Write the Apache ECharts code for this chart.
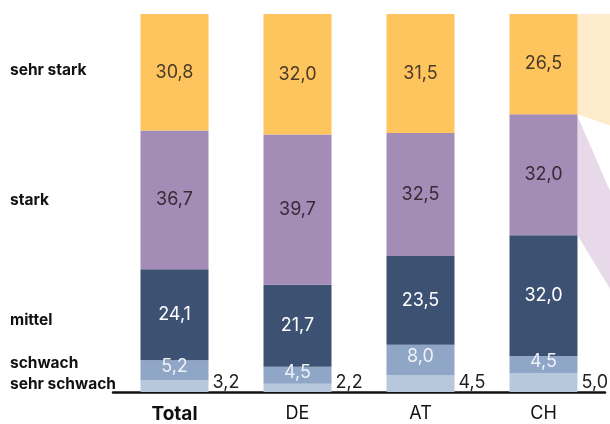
<!DOCTYPE html>
<html>
<head>
<meta charset="utf-8">
<script src="https://cdn.jsdelivr.net/npm/echarts@6/dist/echarts.min.js"></script>
<style>
  html, body { margin: 0; padding: 0; background: #fff; }
  #chart { width: 610px; height: 424px; }
</style>
</head>
<body>
<div id="chart"></div>
<script>
const categories = ['Total', 'DE', 'AT', 'CH']
const levels = ['sehr schwach', 'schwach', 'mittel', 'stark', 'sehr stark']
const sehrSchwach = [3.2, 2.2, 4.5, 5.0]
const schwach = [5.2, 4.5, 8.0, 4.5]
const mittel = [24.1, 21.7, 23.5, 32.0]
const stark = [36.7, 39.7, 32.5, 32.0]
const sehrStark = [30.8, 32.0, 31.5, 26.5]

const values = [sehrSchwach, schwach, mittel, stark, sehrStark]
const colors = ['#b8c8dc', '#8fa6c6', '#3d5273', '#a38cb6', '#fec55e']
const labelColors = ['#222', '#eef2f8', '#ffffff', '#3a2a36', '#4a3a2a']
const font = 'Inter, "Noto Sans", sans-serif'

function fmt (v) {
  return v.toFixed(1).replace('.', ',')
}

const series = values.map((arr, i) => {
  let label = {
    show: true,
    color: labelColors[i],
    fontFamily: font,
    fontSize: 18,
    formatter: p => fmt(p.value)
  }
  if (i === 0) {
    label.position = ['100%', '100%']
    label.align = 'left'
    label.verticalAlign = 'bottom'
    label.offset = [4, 0]
  } else if (i === 1) {
    label.position = 'inside'
    label.offset = [0, -3]
  } else {
    label.position = 'inside'
  }
  return {
    name: levels[i],
    type: 'bar',
    stack: 'all',
    barWidth: 68,
    itemStyle: { color: colors[i] },
    label: label,
    data: arr
  }
})

let chart = echarts.init(document.getElementById('chart'))
chart.setOption({
  animation: false,
  grid: { left: 113, right: 5, top: 14, bottom: 32 },
  xAxis: {
    type: 'category',
    data: categories,
    axisLine: { lineStyle: { color: '#111', width: 2.5 } },
    axisTick: { show: false },
    axisLabel: {
      margin: 13,
      fontFamily: font,
      fontSize: 18,
      color: '#111',
      formatter: v => v === 'Total' ? '{b|' + v + '}' : v,
      rich: { b: { fontWeight: 'bold', fontSize: 19, fontFamily: font, color: '#111' } }
    }
  },
  yAxis: {
    type: 'value',
    min: 0,
    max: 100,
    show: false
  },
  series: series
})

// left-side row labels
const rowLabels = [
  { text: 'sehr stark', y: 71 },
  { text: 'stark', y: 201 },
  { text: 'mittel', y: 321 },
  { text: 'schwach', y: 364 },
  { text: 'sehr schwach', y: 385 }
]

// light connector shapes going off to the right from the CH bar
const last = categories.length - 1
let cum = []
let s = 0
values.forEach(a => { s += a[last]; cum.push(s) })
let px = v => chart.convertToPixel({ gridIndex: 0 }, [categories[last], v])
let right = px(100)[0] + 34
let yTop = px(100)[1]
let yY = px(cum[3])[1]
let yP = px(cum[2])[1]
let w = 40

chart.setOption({
  graphic: rowLabels.map(r => ({
    type: 'text',
    left: 10,
    top: r.y - 9,
    style: { text: r.text, fontFamily: font, fontWeight: 'bold', fontSize: 15.5, fill: '#111' }
  })).concat([
    {
      type: 'polygon',
      z: -1,
      shape: { points: [[right, yTop], [right + w, yTop], [right + w, yY + w * 0.35], [right, yY]] },
      style: { fill: '#feebcc' }
    },
    {
      type: 'polygon',
      z: -1,
      shape: { points: [[right, yY + 2], [right + w, yY + 2 + w * 2.3], [right + w, yP + w * 1.65], [right, yP]] },
      style: { fill: '#e7d9ea' }
    }
  ])
})
</script>
</body>
</html>
